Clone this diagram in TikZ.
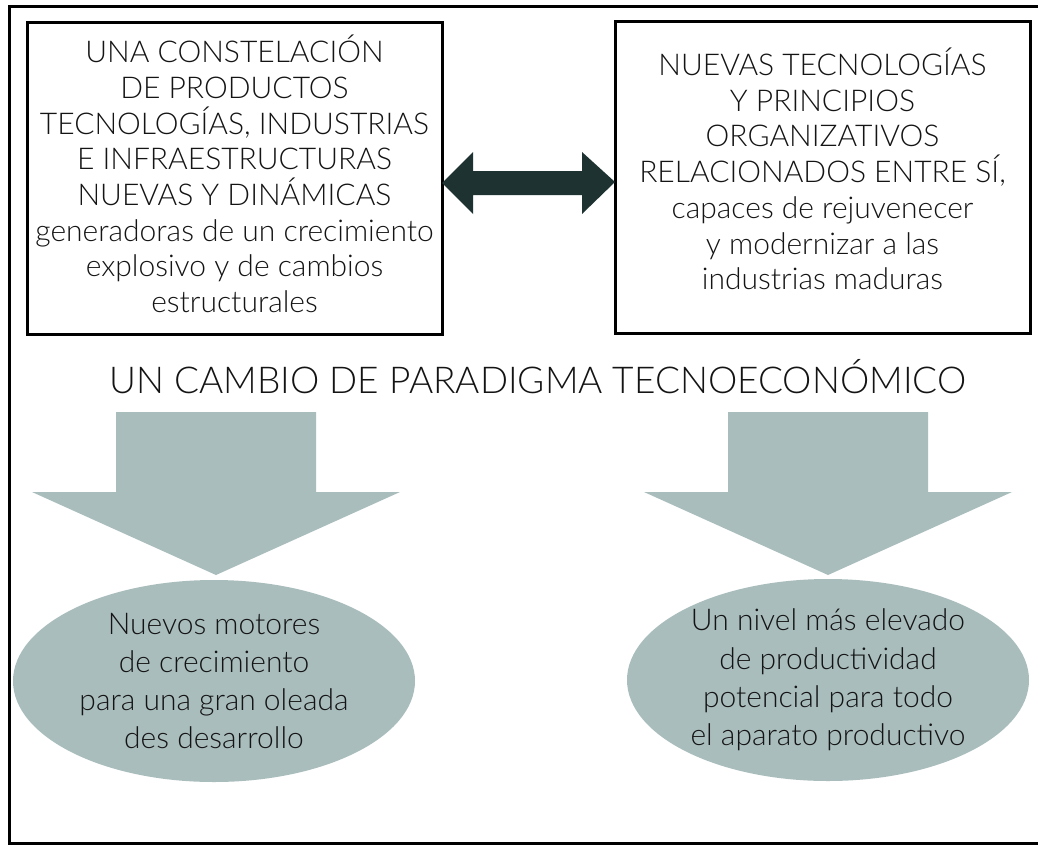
\documentclass[tikz,border=0pt]{standalone}
\usepackage{fontspec}
\setmainfont{Lato Light}
\usetikzlibrary{calc,shapes.geometric}
\definecolor{txt}{RGB}{20,20,20}
\definecolor{arrowgray}{RGB}{170,189,189}
\definecolor{darkslate}{RGB}{30,50,50}
\tikzset{
  box/.style={draw=black, line width=3pt, minimum width=415pt, minimum height=312pt, inner sep=0pt, outer sep=0pt},
  boxtext/.style={align=center, text=txt, inner sep=0pt, font=\fontsize{30}{35.7}\selectfont},
  oval/.style={ellipse, fill=arrowgray, minimum width=402pt, minimum height=202pt, inner sep=0pt, align=center, text=txt, font=\fontsize{30}{38.3}\selectfont},
  titletext/.style={text=txt, inner sep=0pt, font=\fontsize{37}{45}\selectfont},
  blockarrow/.pic={\fill[arrowgray] (-100,0) -- (100,0) -- (100,80) -- (184,80) -- (0,163) -- (-184,80) -- (-100,80) -- cycle;}
}
\begin{document}
\begin{tikzpicture}[x=1pt,y=-1pt]
\useasboundingbox (0,0) rectangle (1038,846);
\fill[white] (0,0) rectangle (1038,846);
\begin{scope}
  \clip (0,0) rectangle (1038,846);
  \draw[line width=3pt] (9,6) rectangle (1060,843);
\end{scope}

% boxes
\node[box] (LB) at (234.5,178.5) {};
\node[box] (RB) at (822.5,177.5) {};
\node[boxtext] (LT) at (234.5,174) {UNA CONSTELACIÓN\\DE PRODUCTOS\\TECNOLOGÍAS, INDUSTRIAS\\E INFRAESTRUCTURAS\\NUEVAS Y DINÁMICAS\\generadoras de un crecimiento\\explosivo y de cambios\\estructurales};
\node[boxtext] (RT) at (822.5,169) {NUEVAS TECNOLOGÍAS\\Y PRINCIPIOS\\ORGANIZATIVOS\\RELACIONADOS ENTRE SÍ,\\capaces de rejuvenecer\\y modernizar a las\\industrias maduras};

% double arrow between boxes
\fill[darkslate] let \p1=([yshift=-4.5pt]LB.east), \p2=([yshift=-4.5pt]RB.west) in
  (\x1,\y1) -- (\x1+31pt,\y1+31pt) -- (\x1+31pt,\y1+12pt) -- (\x2-33pt,\y1+12pt) -- (\x2-33pt,\y1+31pt)
  -- (\x2,\y2) -- (\x2-33pt,\y1-31pt) -- (\x2-33pt,\y1-12pt) -- (\x1+31pt,\y1-12pt) -- (\x1+31pt,\y1-31pt) -- cycle;

% title
\node[titletext, anchor=base] (title) at (538,393) {UN CAMBIO DE PARADIGMA TECNOECONÓMICO};

% block arrows
\pic at (216,412) {blockarrow};
\pic at (828,412) {blockarrow};

% ellipses
\node[oval] (E1) at (214,681) {Nuevos motores\\de crecimiento\\para una gran oleada\\des desarrollo};
\node[oval] (E2) at (828,680) {Un nivel más elevado\\de productividad\\potencial para todo\\el aparato productivo};
\end{tikzpicture}
\end{document}
